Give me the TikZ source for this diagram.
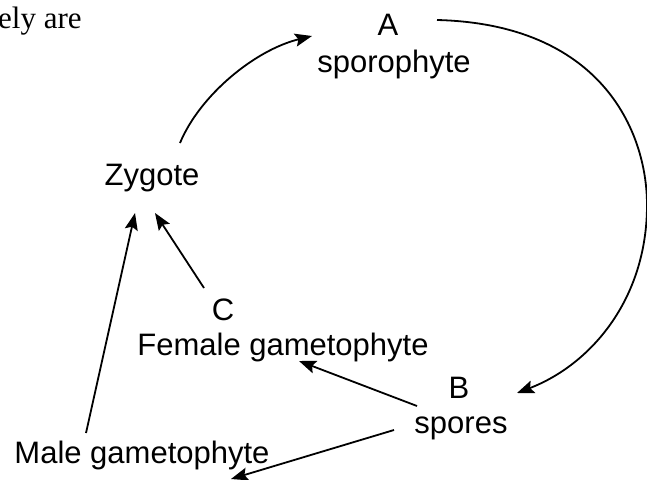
\documentclass[tikz,border=0pt]{standalone}
\usepackage{fontspec}
\setmainfont{Liberation Sans}
\newfontfamily\serifface{Liberation Serif}
\usetikzlibrary{arrows.meta}
\begin{document}
\begin{tikzpicture}[x=1pt,y=-1pt,
  lbl/.style={anchor=base,inner sep=0pt,font=\fontsize{31}{36}\selectfont},
  conn/.style={line width=1.8pt,-{Stealth[length=17pt,width=13pt,inset=3pt]}}]
\useasboundingbox (0,0) rectangle (647,479);
\node[anchor=base west,inner sep=0pt,font=\serifface\fontsize{31}{35}\selectfont] (hdr) at (-2,28) {ely are};
\node[lbl] (A) at (388,35) {A};
\node[lbl] (spo) at (394,72) {sporophyte};
\node[lbl] (zyg) at (152,185) {Zygote};
\node[lbl] (C) at (223,320) {C};
\node[lbl] (fem) at (283,355) {Female gametophyte};
\node[lbl] (B) at (459,398) {B};
\node[lbl] (spr) at (461,433) {spores};
\node[lbl] (male) at (142,463) {Male gametophyte};
% connector end points
\coordinate (zygTop) at (180,143);
\coordinate (aIn) at (312,36);
\coordinate (aOut) at (437,20);
\coordinate (bIn) at (517,393);
\coordinate (zygInC) at (155,213);
\coordinate (cOut) at (204,288);
\coordinate (zygInM) at (135,213);
\coordinate (maleOut) at (86,433);
\coordinate (sprOutF) at (417,406);
\coordinate (femIn) at (299,361);
\coordinate (sprOutM) at (394,430);
\coordinate (maleIn) at (231,479);
\draw[conn] (zygTop) .. controls (200,95) and (255,50) .. (aIn);
\draw[conn] (aOut) .. controls (600,24) and (647,130) .. (647,205)
            .. controls (647,300) and (590,365) .. (bIn);
\draw[conn] (cOut) -- (zygInC);
\draw[conn] (maleOut) -- (zygInM);
\draw[conn] (sprOutF) -- (femIn);
\draw[conn] (sprOutM) -- (maleIn);
\end{tikzpicture}
\end{document}
